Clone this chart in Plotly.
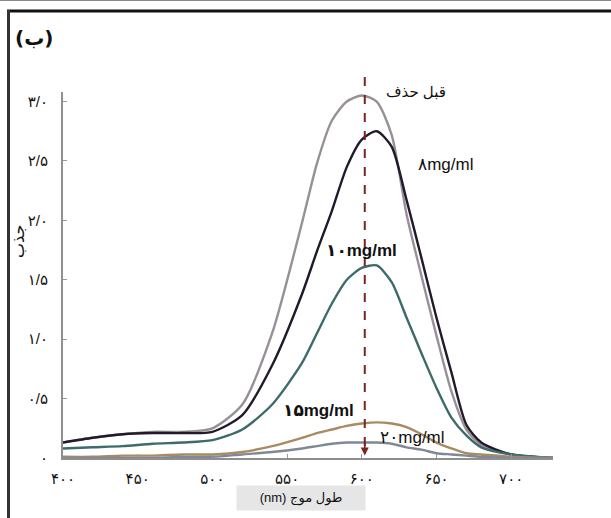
import plotly.graph_objects as go

# ---- data ----
wavelength_nm = [400, 420, 440, 460, 480, 500, 520, 540, 560, 570, 580, 590, 600,
                 610, 620, 630, 640, 650, 660, 670, 680, 700, 728]

before_removal = [0.13, 0.17, 0.20, 0.22, 0.22, 0.25, 0.45, 1.05, 1.98, 2.48, 2.84, 3.00, 3.05,
                  3.00, 2.72, 2.05, 1.53, 1.03, 0.56, 0.24, 0.11, 0.03, 0.0]
conc_8 = [0.13, 0.17, 0.20, 0.21, 0.21, 0.22, 0.36, 0.78, 1.38, 1.74, 2.08, 2.45, 2.68,
          2.75, 2.62, 2.17, 1.68, 1.18, 0.72, 0.28, 0.13, 0.03, 0.0]
conc_10 = [0.08, 0.09, 0.10, 0.12, 0.13, 0.15, 0.24, 0.45, 0.80, 1.05, 1.30, 1.50, 1.60,
           1.62, 1.48, 1.18, 0.88, 0.59, 0.34, 0.19, 0.09, 0.03, 0.0]
conc_15 = [0.01, 0.01, 0.02, 0.02, 0.03, 0.03, 0.05, 0.10, 0.17, 0.21, 0.24, 0.27, 0.29,
           0.30, 0.29, 0.26, 0.20, 0.13, 0.08, 0.04, 0.03, 0.01, 0.0]
conc_20 = [0.0, 0.0, 0.0, 0.0, 0.01, 0.01, 0.03, 0.05, 0.08, 0.10, 0.12, 0.13, 0.13,
           0.13, 0.12, 0.09, 0.07, 0.04, 0.03, 0.02, 0.01, 0.0, 0.0]

x_tick_vals = [400, 450, 500, 550, 600, 650, 700]
x_tick_text = ["۴۰۰", "۴۵۰", "۵۰۰", "۵۵۰", "۶۰۰", "۶۵۰", "۷۰۰"]
y_tick_vals = [0, 0.5, 1.0, 1.5, 2.0, 2.5, 3.0]
y_tick_text = ["۰", "۰/۵", "۱/۰", "۱/۵", "۲/۰", "۲/۵", "۳/۰"]

series_names = ["قبل حذف", "۸mg/ml", "۱۰mg/ml", "۱۵mg/ml", "۲۰mg/ml"]
series_values = [before_removal, conc_8, conc_10, conc_15, conc_20]
series_colors = ["#979097", "#221a2c", "#3d6b69", "#a98b62", "#7e8995"]

reference_nm = 602
X_MIN, X_MAX = 400, 728
Y_MIN, Y_MAX = 0, 3.08

FONT = "Liberation Sans, DejaVu Sans, sans-serif"

fig = go.Figure()
for name, vals, col in zip(series_names, series_values, series_colors):
    fig.add_trace(go.Scatter(x=wavelength_nm, y=vals, mode="lines", name=name,
                             line=dict(color=col, width=2.4, shape="spline", smoothing=0.7)))

# plot-area geometry (px) -> paper helpers for frame decoration
W, H = 611, 518
L, R, T, B = 63, 58, 92, 60
PW, PH = W - L - R, H - T - B


def px_x(px):
    return (px - L) / PW


def px_y(py):
    return (H - B - py) / PH


shapes = [
    # picture frame
    dict(type="line", xref="paper", yref="paper", x0=px_x(0), x1=px_x(W), y0=px_y(0.5), y1=px_y(0.5),
         line=dict(color="#8a8a8a", width=1)),
    dict(type="line", xref="paper", yref="paper", x0=px_x(7), x1=px_x(W), y0=px_y(11), y1=px_y(11),
         line=dict(color="#111111", width=3)),
    dict(type="line", xref="paper", yref="paper", x0=px_x(8.5), x1=px_x(8.5), y0=px_y(10), y1=px_y(H),
         line=dict(color="#333333", width=3)),
    # dashed reference line
    dict(type="line", xref="x domain", yref="paper",
         x0=(reference_nm - X_MIN) / (X_MAX - X_MIN), x1=(reference_nm - X_MIN) / (X_MAX - X_MIN),
         y0=px_y(77), y1=px_y(448),
         line=dict(color="#7a2424", width=2, dash="dash")),
]


def paper_text(px, py, text, size, **kw):
    return dict(x=px_x(px), y=px_y(py), xref="paper", yref="paper", text=text, showarrow=False,
                xanchor="center", yanchor="middle",
                font=dict(family=kw.pop("family", FONT), size=size, color="#111"), **kw)


def data_text(x, y, text, size):
    return dict(x=x, y=y, xref="x", yref="y", text=text, showarrow=False,
                xanchor="center", yanchor="middle",
                font=dict(family=FONT, size=size, color="#111"))


annotations = [
    dict(x=reference_nm, y=0.02, ax=reference_nm, ay=0.15, xref="x", yref="y", axref="x", ayref="y",
         showarrow=True, arrowhead=2, arrowsize=1, arrowwidth=1.6, arrowcolor="#7a2424", text=""),
    paper_text(34, 38, "<b>(ب)</b>", 20, family="DejaVu Sans"),
    paper_text(18, 242, "جذب", 16, textangle=-90),
    paper_text(301, 498, "(nm) طول موج", 13, bgcolor="#e6e6e6", width=126, height=22),
    paper_text(416, 91, series_names[0], 15),
    data_text(656, 2.47, series_names[1], 17),
    data_text(600, 1.75, "<b>" + series_names[2] + "</b>", 17),
    data_text(571, 0.40, "<b>" + series_names[3] + "</b>", 17),
    data_text(634, 0.17, series_names[4], 17),
]

fig.update_layout(
    width=W, height=H,
    margin=dict(l=L, r=R, t=T, b=B, pad=0),
    paper_bgcolor="white", plot_bgcolor="white",
    showlegend=False,
    shapes=shapes, annotations=annotations,
    font=dict(family=FONT, size=15, color="#111"),
)
fig.update_xaxes(range=[X_MIN, X_MAX], tickvals=x_tick_vals, ticktext=x_tick_text,
                 showgrid=False, zeroline=False, showline=True, linecolor="#8f8f8f", linewidth=2,
                 ticks="inside", ticklen=4, tickcolor="#9a9a9a", ticklabelstandoff=6,
                 tickfont=dict(size=15, color="#111"))
fig.update_yaxes(range=[Y_MIN, Y_MAX], tickvals=y_tick_vals, ticktext=y_tick_text,
                 showgrid=False, zeroline=False, showline=True, linecolor="#8f8f8f", linewidth=2,
                 ticks="inside", ticklen=4, tickcolor="#9a9a9a", ticklabelstandoff=10,
                 tickfont=dict(size=15, color="#111"))

fig.write_html(
    "out.html",
    config={"displayModeBar": False},
    post_script="document.body.style.margin='0';document.documentElement.style.overflow='hidden';",
)
